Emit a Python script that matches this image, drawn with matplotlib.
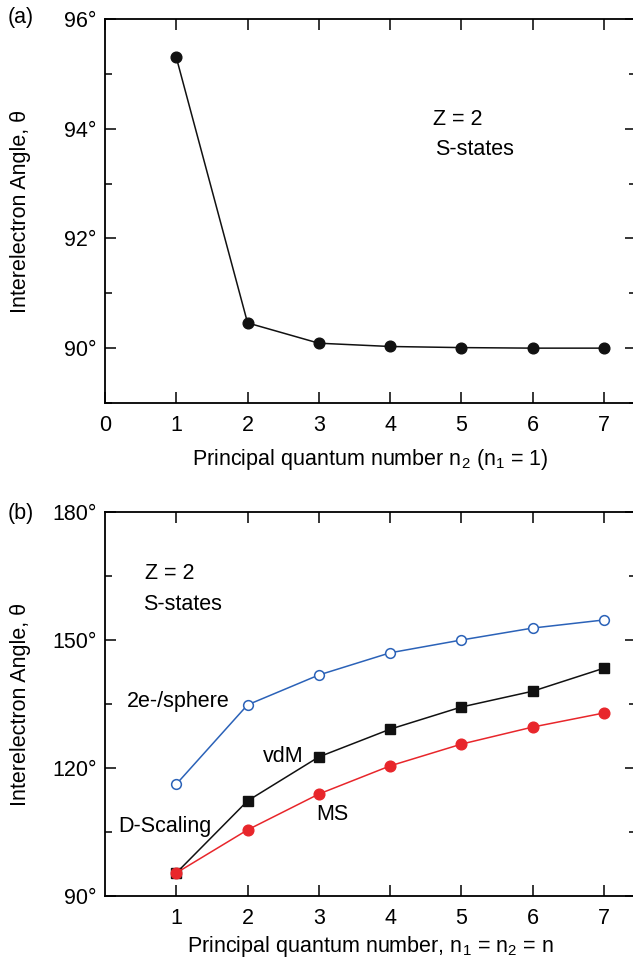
import matplotlib as mpl
import matplotlib.pyplot as plt
import matplotlib.ticker as tick

plt.rcParams["font.family"] = ["Liberation Sans", "DejaVu Sans"]
plt.rcParams["font.size"] = 15.5
plt.rcParams["mathtext.fontset"] = "custom"
plt.rcParams["mathtext.rm"] = "Liberation Sans"

# panel (a): n1 = 1
n2 = [1, 2, 3, 4, 5, 6, 7]
theta_a = [95.3, 90.46, 90.09, 90.03, 90.01, 90.0, 90.0]

# panel (b): n1 = n2 = n
n = [1, 2, 3, 4, 5, 6, 7]
theta_sphere = [116.2, 134.8, 141.8, 147.0, 150.0, 152.8, 154.7]
theta_vdm = [95.4, 112.3, 122.6, 129.1, 134.3, 138.0, 143.4]
theta_ms = [95.4, 105.5, 113.9, 120.5, 125.6, 129.6, 132.9]

W, H = 633, 966
FS = 15.5
fig = plt.figure(figsize=(W / 100, H / 100), dpi=100)

left = 105 / W
width = 7.45 * 71.29 / W
ax1 = fig.add_axes([left, 1 - 403 / H, width, (403 - 19) / H])
ax2 = fig.add_axes([left, 1 - 896 / H, width, (896 - 512) / H])


def style(ax):
    for s in ax.spines.values():
        s.set_linewidth(1.3)
    ax.tick_params(which="both", direction="in", top=True, right=True,
                   width=1.1, labelsize=FS)
    ax.tick_params(which="major", length=8)
    ax.tick_params(axis="x", which="major", pad=9)
    ax.tick_params(axis="y", which="major", pad=6)
    ax.tick_params(which="minor", length=5)
    ax.set_xlim(0, 7.45)
    ax.yaxis.set_major_formatter(tick.FuncFormatter(lambda v, p: "%d\u00b0" % v))
    ax.set_ylabel("Interelectron Angle, \u03b8")
    ax.yaxis.set_label_coords(-74 / (7.45 * 71.29), 0.5)


# (a)
style(ax1)
ax1.plot(n2, theta_a, color="#111111", lw=1.1, marker="o", ms=7.7)
ax1.set_ylim(89, 96)
ax1.set_yticks([90, 92, 94, 96])
ax1.yaxis.set_minor_locator(tick.MultipleLocator(1))
ax1.set_xticks(range(0, 8))
ax1.set_xlabel("Principal quantum number n$_2$ (n$_1$ = 1)", labelpad=7.5)
ax1.text(4.6, 94.16, "Z = 2", fontsize=FS, va="center")
ax1.text(4.63, 93.62, "S-states", fontsize=FS, va="center")
fig.text(8 / W, 1 - 18 / H, "(a)", fontsize=FS, va="center")

# (b)
style(ax2)
ax2.plot(n, theta_sphere, color="#2b62b8", lw=1.1, marker="o", ms=7,
         mfc="white", mec="#2b62b8", mew=1.1)
ax2.plot(n, theta_vdm, color="#111111", lw=1.1, marker="s", ms=7)
ax2.plot(n, theta_ms, color="#e8262b", lw=1.1, marker="o", ms=7.7)
ax2.set_ylim(90, 180)
ax2.set_yticks([90, 120, 150, 180])
ax2.yaxis.set_minor_locator(tick.MultipleLocator(15))
ax2.set_xticks(range(1, 8))
ax2.set_xlabel("Principal quantum number, n$_1$ = n$_2$ = n", labelpad=3)
ax2.text(0.56, 165.7, "Z = 2", fontsize=FS, va="center")
ax2.text(0.53, 158.4, "S-states", fontsize=FS, va="center")
ax2.text(0.31, 135.5, "2e-/sphere", fontsize=FS, va="center")
ax2.text(2.22, 122.6, "vdM", fontsize=FS, va="center")
ax2.text(2.97, 109.2, "MS", fontsize=FS, va="center")
ax2.text(0.18, 106.2, "D-Scaling", fontsize=FS, va="center")
fig.text(8 / W, 1 - 513 / H, "(b)", fontsize=FS, va="center")

fig.savefig("out.png", dpi=100)
